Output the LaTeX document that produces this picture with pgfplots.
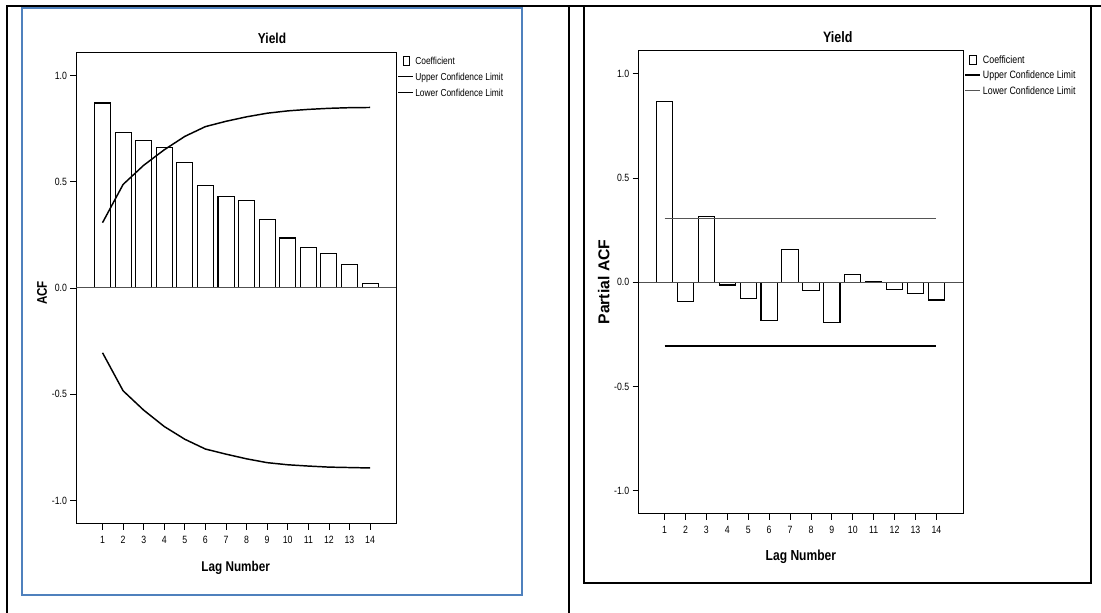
\documentclass[border=0pt]{standalone}
\usepackage{pgfplots}
\usepackage{pgfplotstable}
\pgfplotsset{compat=1.18}
\usepackage{fontspec}
\setmainfont{Liberation Sans}[FakeStretch=0.83]
\newfontfamily\widefont{Liberation Sans}
\definecolor{frameblue}{HTML}{4F81BD}
\definecolor{zerogray}{HTML}{505050}
\definecolor{limgray}{HTML}{555555}

\pgfplotstableread{
lag acf upper lower
1  0.870 0.307 -0.305
2  0.732 0.487 -0.484
3  0.695 0.577 -0.575
4  0.662 0.650 -0.652
5  0.592 0.713 -0.712
6  0.482 0.759 -0.758
7  0.432 0.784 -0.782
8  0.410 0.805 -0.804
9  0.322 0.822 -0.822
10 0.235 0.833 -0.832
11 0.191 0.840 -0.838
12 0.164 0.845 -0.843
13 0.109 0.848 -0.845
14 0.022 0.849 -0.847
}\acfdata

\pgfplotstableread{
lag pacf upper lower
1  0.869  0.305 -0.306
2  -0.090 0.305 -0.306
3  0.314  0.305 -0.306
4  -0.013 0.305 -0.306
5  -0.078 0.305 -0.306
6  -0.183 0.305 -0.306
7  0.155  0.305 -0.306
8  -0.039 0.305 -0.306
9  -0.194 0.305 -0.306
10 0.037  0.305 -0.306
11 0.003  0.305 -0.306
12 -0.035 0.305 -0.306
13 -0.055 0.305 -0.306
14 -0.085 0.305 -0.306
}\pacfdata

\pgfplotsset{
  spss/.style={
    scale only axis,
    axis line style={black, line width=0.6pt},
    ymin=-1.11, ymax=1.11,
    xtick={1,...,14},
    ytick={-1,-0.5,0,0.5,1},
    yticklabels={-1.0,-0.5,0.0,0.5,1.0},
    tick align=outside,
    xtick pos=bottom, ytick pos=left,
    major tick length=4.5pt,
    tick style={black, line width=0.6pt},
    tick label style={font=\fontsize{7.9}{9}\selectfont},
    /pgf/number format/assume math mode=true,
    xticklabel style={yshift=-1pt},
    yticklabel style={xshift=1pt},
  },
}

\begin{document}
\begin{tikzpicture}
\useasboundingbox (0,0) rectangle (825.75pt,-459.75pt);
\begin{scope}[x=0.75pt,y=-0.75pt]
  % table frame
  \draw[black, line width=1.5pt] (6,6) -- (1101,6);
  \draw[black, line width=1.5pt] (7,6) -- (7,613);
  \draw[black, line width=1.5pt] (569,6) -- (569,613);
  \draw[black, line width=1.5pt] (584,6) -- (584,583) -- (1091,583) -- (1091,6);
  \draw[frameblue, line width=1.3pt] (22,7.8) rectangle (522,595);
  % left titles and labels
  \node[font=\fontsize{10.8}{12}\selectfont\bfseries] at (272,37.9) {Yield};
  \node[font=\fontsize{10.5}{12}\selectfont\bfseries, rotate=90] at (42,293) {ACF};
  \node[font=\fontsize{10.6}{12}\selectfont\bfseries] at (235.7,568) {Lag Number};
  % left legend
  \draw[black, line width=0.6pt, fill=white] (403,56.7) rectangle (409,65.3);
  \draw[black, line width=0.75pt] (398,77) -- (412.5,77);
  \draw[black, line width=0.75pt] (398,93) -- (412.5,93);
  \begin{scope}[every node/.style={anchor=base west, inner sep=0pt, font=\fontsize{7.6}{9}\selectfont}]
    \node at (415,65) {Coefficient};
    \node at (415,80.6) {Upper Confidence Limit};
    \node at (415,96.6) {Lower Confidence Limit};
  \end{scope}
  % right titles and labels
  \node[font=\fontsize{11.3}{13}\selectfont\bfseries] at (837.8,37.1) {Yield};
  \node[font=\widefont\fontsize{11.8}{13}\selectfont\bfseries, rotate=90] at (603.8,282) {Partial ACF};
  \node[font=\fontsize{10.9}{12}\selectfont\bfseries] at (800.9,556.3) {Lag Number};
  % right legend
  \draw[black, line width=0.6pt, fill=white] (969.6,55.5) rectangle (976.8,64.5);
  \draw[black, line width=1.1pt] (964.8,75) -- (980.3,75);
  \draw[limgray, line width=0.75pt] (964.8,91) -- (980.3,91);
  \begin{scope}[every node/.style={anchor=base west, inner sep=0pt, font=\fontsize{8}{9}\selectfont}]
    \node at (982.7,63.6) {Coefficient};
    \node at (982.7,78.8) {Upper Confidence Limit};
    \node at (982.7,94.8) {Lower Confidence Limit};
  \end{scope}
\end{scope}

% Left: ACF
\begin{axis}[spss,
  at={(57.3pt,-392.9pt)}, anchor=south west,
  width=240pt, height=353.9pt,
  xmin=-0.27, xmax=15.28]
  \addplot[ybar, bar width=0.78, bar shift=0pt, draw=black, fill=white, line width=0.8pt]
    table[x=lag, y=acf]{\acfdata};
  \addplot[zerogray, line width=0.75pt] coordinates {(-0.27,0) (15.28,0)};
  \addplot[black, line width=1.1pt] table[x=lag, y=upper]{\acfdata};
  \addplot[black, line width=1.1pt] table[x=lag, y=lower]{\acfdata};
\end{axis}

% Right: PACF
\begin{axis}[spss,
  at={(479.0pt,-385.3pt)}, anchor=south west,
  width=243.2pt, height=347.2pt,
  xmin=-0.24, xmax=15.27]
  \addplot[ybar, bar width=0.78, bar shift=0pt, draw=black, fill=white, line width=0.8pt]
    table[x=lag, y=pacf]{\pacfdata};
  \addplot[zerogray, line width=0.75pt] coordinates {(-0.24,0) (15.27,0)};
  \addplot[limgray, line width=0.8pt] table[x=lag, y=upper]{\pacfdata};
  \addplot[black, line width=1.9pt] table[x=lag, y=lower]{\pacfdata};
\end{axis}
\end{tikzpicture}
\end{document}
